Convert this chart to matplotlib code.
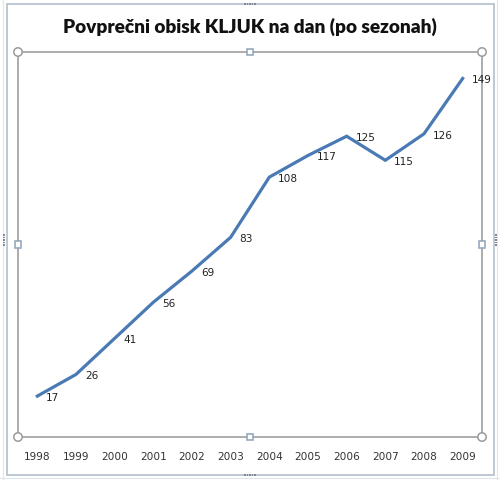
import matplotlib
matplotlib.use("Agg")
import matplotlib.pyplot as plt
from matplotlib.patches import Rectangle, Circle

years = ["1998", "1999", "2000", "2001", "2002", "2003", "2004", "2005", "2006", "2007", "2008", "2009"]
visits = [17, 26, 41, 56, 69, 83, 108, 117, 125, 115, 126, 149]
title = "Povprečni obisk KLJUK na dan (po sezonah)"

W, H = 500, 480
fig = plt.figure(figsize=(W / 100, H / 100), dpi=100)
fig.patch.set_facecolor("white")


def fx(px):
    return px / W


def fy(py):
    return 1 - py / H


bg = fig.add_axes([0, 0, 1, 1], zorder=-5)
bg.set_xlim(0, W)
bg.set_ylim(H, 0)
bg.axis("off")
# faint spreadsheet cell lines outside the chart
for gx in [2.5, 497]:
    bg.plot([gx, gx], [0, H], color="#dbe6ee", linewidth=0.8)
for gy in [478]:
    bg.plot([0, W], [gy, gy], color="#dbe6ee", linewidth=0.8)
bg.add_patch(Rectangle((6.5, 4), 487, 471, facecolor="white", edgecolor="#b8c4cf", linewidth=1.3))

L, R, T, B = 18, 482, 52, 437
ax = fig.add_axes([fx(L), fy(B), fx(R) - fx(L), (B - T) / H])
x = list(range(len(years)))
ax.plot(x, visits, color="#4A7AB4", linewidth=2.3, solid_joinstyle="miter", clip_on=False)
ax.set_xlim(-0.5, len(years) - 0.5)
ax.set_ylim(0, 160)
ax.set_yticks([])
ax.set_xticks(x)
ax.set_xticklabels(years, fontsize=7.6, color="#333333", family="DejaVu Sans")
ax.tick_params(axis="x", length=0, pad=11)
for s in ax.spines.values():
    s.set_color("#a6a6a6")
    s.set_linewidth(1.3)

for xi, v in zip(x, visits):
    ax.annotate(str(v), (xi, v), xytext=(9, -2), textcoords="offset pixels",
                fontsize=7.6, color="#222222", ha="left", va="center", family="DejaVu Sans")

# handle overlay above the axes
ov = fig.add_axes([0, 0, 1, 1], zorder=20)
ov.set_xlim(0, W)
ov.set_ylim(H, 0)
ov.axis("off")
ov.patch.set_alpha(0)
for (hx, hy) in [(L, T), (R, T), (L, B), (R, B)]:
    ov.add_patch(Circle((hx, hy), 4.2, facecolor="white", edgecolor="#9a9a9a", linewidth=1.1))
for (hx, hy) in [((L + R) / 2, T), ((L + R) / 2, B), (L, (T + B) / 2), (R, (T + B) / 2)]:
    ov.add_patch(Rectangle((hx - 3.2, hy - 3.2), 6.4, 6.4, facecolor="white", edgecolor="#8fa3b8", linewidth=1.1))
# dotted grips on the outer frame
for (hx, hy) in [(250, 4), (250, 475), (4, 240), (496, 240)]:
    horiz = hy in (4, 475)
    for k in range(-2, 3):
        px, py = (hx + k * 2.5, hy) if horiz else (hx, hy + k * 2.5)
        ov.add_patch(Rectangle((px - 0.6, py - 0.6), 1.2, 1.2, facecolor="#7f8a96", edgecolor="none"))

fig.text(0.5, fy(27), title, ha="center", va="center", fontsize=13.7,
         fontweight="heavy", family="Lato", color="#111111")

fig.savefig("out.png", dpi=100)
